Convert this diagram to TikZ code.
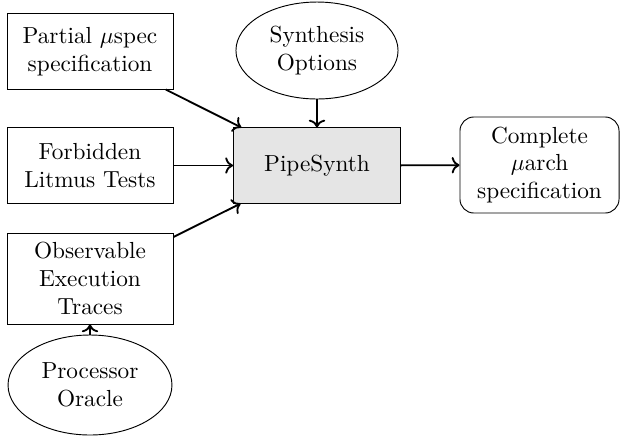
\documentclass[tikz,border=0pt]{standalone}
\usetikzlibrary{shapes.geometric, positioning, arrows.meta}

\begin{document}
\begin{tikzpicture}[x=0.43pt, y=-0.43pt]
    % Define styles
    \tikzstyle{input} = [rectangle, draw, align=center, minimum width=71.4pt, minimum height=32.3pt, inner sep=0pt]
    \tikzstyle{source} = [ellipse, draw, align=center, inner sep=0pt]
    \tikzstyle{tool} = [rectangle, draw, fill=gray!20, align=center, minimum width=71.8pt, minimum height=32.3pt]
    \tikzstyle{output} = [rectangle, rounded corners=6pt, draw, align=center, minimum width=68.4pt, minimum height=41.3pt, inner sep=0pt]
    \tikzstyle{relation} = [->, line width=0.8pt]

    \useasboundingbox (0,0) rectangle (621,436);

    % Inputs
    \node[input] (partial) at (90,51.5) {Partial $\mu$spec\\specification};
    \node[input] (forbidden) at (90,165.5) {Forbidden\\Litmus Tests};
    \node[input, minimum height=39.1pt] (traces) at (90,278.5) {Observable\\Execution\\Traces};
    \node[source, minimum width=70.5pt, minimum height=43pt] (oracle) at (90,385) {Processor\\Oracle};
    \node[source, minimum width=69.7pt, minimum height=41.7pt] (options) at (317,50.5) {Synthesis\\Options};

    % Synthesis tool and result
    \node[tool] (pipesynth) at (317,165.5) {PipeSynth};
    \node[output] (complete) at (539.5,165) {Complete\\$\mu$arch\\specification};

    % Relations
    \draw[relation] (partial) -- (pipesynth);
    \draw[relation] (forbidden) -- (pipesynth);
    \draw[relation] (traces) -- (pipesynth);
    \draw[relation] (options) -- (pipesynth);
    \draw[relation] (oracle) -- (traces);
    \draw[relation] (pipesynth) -- (complete);

\end{tikzpicture}
\end{document}
